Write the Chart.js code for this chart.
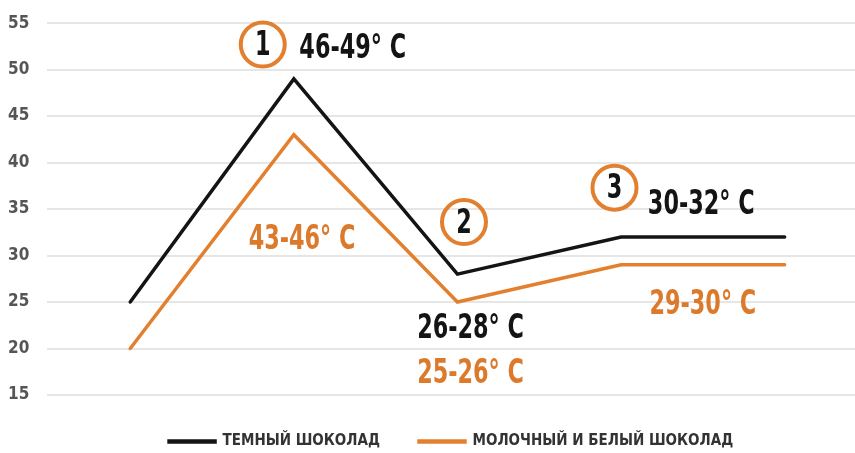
<!DOCTYPE html>
<html>
<head>
<meta charset="utf-8">
<script src="https://cdn.jsdelivr.net/npm/chart.js@4.4.1/dist/chart.umd.min.js"></script>
<style>
  html, body { margin: 0; padding: 0; background: #fff; }
  #wrap { width: 855px; height: 453px; position: relative; }
</style>
</head>
<body>
<div id="wrap"><canvas id="tempChart"></canvas></div>
<script>
// stages of tempering (x positions 0..4)
const stages = [0, 1, 2, 3, 4];
const darkValues = [25, 49, 28, 32, 32];
const milkValues = [20, 43, 25, 29, 29];
const seriesNames = ['ТЕМНЫЙ ШОКОЛАД', 'МОЛОЧНЫЙ И БЕЛЫЙ ШОКОЛАД'];
const yTicks = [15, 20, 25, 30, 35, 40, 45, 50, 55];

// range labels, anchored in data units
const rangeTexts = ['46-49° C', '43-46° C', '26-28° C', '25-26° C', '30-32° C', '29-30° C'];
const rangeX = [1.36, 1.05, 2.08, 2.08, 3.49, 3.50];
const rangeY = [52.4, 31.9, 22.3, 17.5, 35.6, 24.9];
const rangeSeries = [0, 1, 0, 1, 0, 1];

// numbered step markers
const stepNums = ['1', '2', '3'];
const stepX = [0.81, 2.04, 2.96];
const stepY = [52.7, 33.6, 37.3];

const BLACK = '#141414';
const ORANGE = '#e2802f';
const ORANGE_TEXT = '#dc7a2c';
const FONT = '"DejaVu Sans Condensed", sans-serif';
const SQUEEZE = 0.73; // the original uses a very narrow typeface

const annotations = {
    id: 'annotations',
    afterDatasetsDraw(chart) {
        const ctx = chart.ctx;
        const xs = chart.scales.x;
        const ys = chart.scales.y;
        ctx.save();
        ctx.textAlign = 'center';
        ctx.textBaseline = 'middle';
        ctx.font = 'bold 34px ' + FONT;

        const squeezedText = (t, x, y) => {
            ctx.save();
            ctx.translate(x, y);
            ctx.scale(SQUEEZE, 1);
            ctx.fillText(t, 0, 0);
            ctx.restore();
        };

        stepNums.forEach((n, i) => {
            const cx = xs.getPixelForValue(stepX[i]);
            const cy = ys.getPixelForValue(stepY[i]);
            ctx.beginPath();
            ctx.arc(cx, cy, 22, 0, Math.PI * 2);
            ctx.lineWidth = 4;
            ctx.strokeStyle = ORANGE;
            ctx.stroke();
            ctx.fillStyle = BLACK;
            squeezedText(n, cx, cy + 2);
        });

        rangeTexts.forEach((t, i) => {
            ctx.fillStyle = rangeSeries[i] === 0 ? BLACK : ORANGE_TEXT;
            squeezedText(t, xs.getPixelForValue(rangeX[i]), ys.getPixelForValue(rangeY[i]) + 2);
        });
        ctx.restore();
    }
};

// keep the legend strip short so the plot reaches down like the original
const legendFit = {
    id: 'legendFit',
    beforeLayout(chart) {
        const legend = chart.legend;
        if (legend && !legend._patched) {
            const orig = legend.fit;
            legend.fit = function () {
                orig.call(this);
                this.height = 58;
            };
            legend._patched = true;
        }
    }
};

const ctx = document.getElementById('tempChart').getContext('2d');
new Chart(ctx, {
    type: 'line',
    data: {
        datasets: [{
            label: seriesNames[0],
            data: stages.map((x, i) => ({ x: x, y: darkValues[i] })),
            borderColor: BLACK,
            backgroundColor: BLACK,
            borderWidth: 3.5,
            pointRadius: 0,
            tension: 0,
            borderCapStyle: 'round'
        }, {
            label: seriesNames[1],
            data: stages.map((x, i) => ({ x: x, y: milkValues[i] })),
            borderColor: ORANGE,
            backgroundColor: ORANGE,
            borderWidth: 3.5,
            pointRadius: 0,
            tension: 0,
            borderCapStyle: 'round'
        }]
    },
    options: {
        responsive: true,
        maintainAspectRatio: false,
        animation: false,
        layout: { padding: { left: -10, top: 8, right: 0, bottom: 0 } },
        plugins: {
            tooltip: { enabled: false },
            legend: {
                position: 'bottom',
                fullSize: false,
                labels: {
                    boxWidth: 46,
                    boxHeight: 1,
                    padding: 39,
                    color: '#333',
                    font: { family: FONT, size: 15, weight: 'bold' }
                }
            }
        },
        scales: {
            x: {
                type: 'linear',
                display: false,
                min: -0.507,
                max: 4.43
            },
            y: {
                min: 15,
                max: 55,
                afterBuildTicks: axis => { axis.ticks = yTicks.map(v => ({ value: v })); },
                border: { display: false },
                grid: { color: '#e6e6e6', lineWidth: 2, drawTicks: false },
                ticks: {
                    padding: 18,
                    color: '#555',
                    font: { family: FONT, size: 17, weight: 'bold', lineHeight: 0.6 }
                }
            }
        }
    },
    plugins: [annotations, legendFit]
});
</script>
</body>
</html>
